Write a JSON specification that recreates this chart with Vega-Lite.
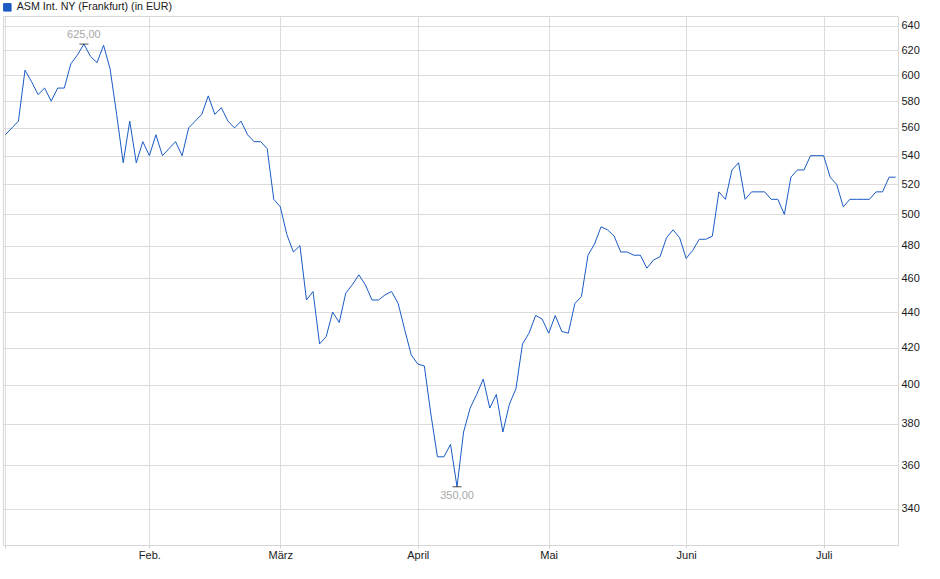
{
  "$schema": "https://vega.github.io/schema/vega-lite/v6.json",
  "width": 895,
  "height": 529,
  "autosize": "none",
  "padding": {"left": 3, "top": 16, "right": 42, "bottom": 34},
  "background": "white",
  "config": {
    "font": "Liberation Sans",
    "view": {"stroke": "#d6d6d6"},
    "axis": {"gridColor": "#dcdcdc", "gridWidth": 1, "domain": false, "labelFont": "Liberation Sans", "labelFontSize": 11, "labelColor": "#1a1a1a"}
  },
  "data": {
    "values": [
      {"d": "2025-01-02", "v": 555}, {"d": "2025-01-03", "v": 560}, {"d": "2025-01-06", "v": 565},
      {"d": "2025-01-07", "v": 604}, {"d": "2025-01-08", "v": 595}, {"d": "2025-01-09", "v": 585},
      {"d": "2025-01-10", "v": 590}, {"d": "2025-01-13", "v": 580}, {"d": "2025-01-14", "v": 590},
      {"d": "2025-01-15", "v": 590}, {"d": "2025-01-16", "v": 609}, {"d": "2025-01-17", "v": 616},
      {"d": "2025-01-20", "v": 625}, {"d": "2025-01-21", "v": 615}, {"d": "2025-01-22", "v": 610},
      {"d": "2025-01-23", "v": 624}, {"d": "2025-01-24", "v": 605}, {"d": "2025-01-27", "v": 570},
      {"d": "2025-01-28", "v": 535}, {"d": "2025-01-29", "v": 565}, {"d": "2025-01-30", "v": 535},
      {"d": "2025-01-31", "v": 550},
      {"d": "2025-02-03", "v": 540}, {"d": "2025-02-04", "v": 555}, {"d": "2025-02-05", "v": 540},
      {"d": "2025-02-06", "v": 545}, {"d": "2025-02-07", "v": 550}, {"d": "2025-02-10", "v": 540},
      {"d": "2025-02-11", "v": 560}, {"d": "2025-02-12", "v": 565}, {"d": "2025-02-13", "v": 570},
      {"d": "2025-02-14", "v": 584}, {"d": "2025-02-17", "v": 570}, {"d": "2025-02-18", "v": 575},
      {"d": "2025-02-19", "v": 565}, {"d": "2025-02-20", "v": 560}, {"d": "2025-02-21", "v": 565},
      {"d": "2025-02-24", "v": 555}, {"d": "2025-02-25", "v": 550}, {"d": "2025-02-26", "v": 550},
      {"d": "2025-02-27", "v": 545}, {"d": "2025-02-28", "v": 510},
      {"d": "2025-03-03", "v": 505}, {"d": "2025-03-04", "v": 487}, {"d": "2025-03-05", "v": 476},
      {"d": "2025-03-06", "v": 480}, {"d": "2025-03-07", "v": 447}, {"d": "2025-03-10", "v": 452},
      {"d": "2025-03-11", "v": 422}, {"d": "2025-03-12", "v": 426}, {"d": "2025-03-13", "v": 440},
      {"d": "2025-03-14", "v": 434}, {"d": "2025-03-17", "v": 451}, {"d": "2025-03-18", "v": 456},
      {"d": "2025-03-19", "v": 462}, {"d": "2025-03-20", "v": 456}, {"d": "2025-03-21", "v": 447},
      {"d": "2025-03-24", "v": 447}, {"d": "2025-03-25", "v": 450}, {"d": "2025-03-26", "v": 452},
      {"d": "2025-03-27", "v": 445}, {"d": "2025-03-28", "v": 430}, {"d": "2025-03-31", "v": 416},
      {"d": "2025-04-01", "v": 411}, {"d": "2025-04-02", "v": 410}, {"d": "2025-04-03", "v": 385},
      {"d": "2025-04-04", "v": 364}, {"d": "2025-04-07", "v": 364}, {"d": "2025-04-08", "v": 370},
      {"d": "2025-04-09", "v": 350}, {"d": "2025-04-10", "v": 376}, {"d": "2025-04-11", "v": 388},
      {"d": "2025-04-14", "v": 395}, {"d": "2025-04-15", "v": 403}, {"d": "2025-04-16", "v": 388},
      {"d": "2025-04-17", "v": 395}, {"d": "2025-04-22", "v": 376}, {"d": "2025-04-23", "v": 390},
      {"d": "2025-04-24", "v": 398}, {"d": "2025-04-25", "v": 422}, {"d": "2025-04-28", "v": 428},
      {"d": "2025-04-29", "v": 438}, {"d": "2025-04-30", "v": 436},
      {"d": "2025-05-02", "v": 428}, {"d": "2025-05-05", "v": 438}, {"d": "2025-05-06", "v": 429},
      {"d": "2025-05-07", "v": 428}, {"d": "2025-05-08", "v": 445}, {"d": "2025-05-09", "v": 449},
      {"d": "2025-05-12", "v": 474}, {"d": "2025-05-13", "v": 481}, {"d": "2025-05-14", "v": 492},
      {"d": "2025-05-15", "v": 490}, {"d": "2025-05-16", "v": 486}, {"d": "2025-05-19", "v": 476},
      {"d": "2025-05-20", "v": 476}, {"d": "2025-05-21", "v": 474}, {"d": "2025-05-22", "v": 474},
      {"d": "2025-05-23", "v": 466}, {"d": "2025-05-26", "v": 471}, {"d": "2025-05-27", "v": 473},
      {"d": "2025-05-28", "v": 485}, {"d": "2025-05-29", "v": 490}, {"d": "2025-05-30", "v": 485},
      {"d": "2025-06-02", "v": 472}, {"d": "2025-06-03", "v": 477}, {"d": "2025-06-04", "v": 484},
      {"d": "2025-06-05", "v": 484}, {"d": "2025-06-06", "v": 486}, {"d": "2025-06-09", "v": 515},
      {"d": "2025-06-10", "v": 510}, {"d": "2025-06-11", "v": 530}, {"d": "2025-06-12", "v": 535},
      {"d": "2025-06-13", "v": 510}, {"d": "2025-06-16", "v": 515}, {"d": "2025-06-17", "v": 515},
      {"d": "2025-06-18", "v": 515}, {"d": "2025-06-19", "v": 510}, {"d": "2025-06-20", "v": 510},
      {"d": "2025-06-23", "v": 500}, {"d": "2025-06-24", "v": 525}, {"d": "2025-06-25", "v": 530},
      {"d": "2025-06-26", "v": 530}, {"d": "2025-06-27", "v": 540}, {"d": "2025-06-30", "v": 540},
      {"d": "2025-07-01", "v": 540}, {"d": "2025-07-02", "v": 525}, {"d": "2025-07-03", "v": 520},
      {"d": "2025-07-04", "v": 505}, {"d": "2025-07-07", "v": 510}, {"d": "2025-07-08", "v": 510},
      {"d": "2025-07-09", "v": 510}, {"d": "2025-07-10", "v": 510}, {"d": "2025-07-11", "v": 515},
      {"d": "2025-07-14", "v": 515}, {"d": "2025-07-15", "v": 525}, {"d": "2025-07-16", "v": 525}
    ]
  },
  "encoding": {
    "x": {
      "field": "d",
      "type": "ordinal",
      "scale": {"type": "point", "padding": 0.36},
      "axis": {
        "title": null,
        "labelAngle": 0,
        "values": ["2025-01-02", "2025-02-03", "2025-03-03", "2025-04-01", "2025-05-02", "2025-06-02", "2025-07-01"],
        "labelExpr": "datum.value == '2025-02-03' ? 'Feb.' : datum.value == '2025-03-03' ? 'März' : datum.value == '2025-04-01' ? 'April' : datum.value == '2025-05-02' ? 'Mai' : datum.value == '2025-06-02' ? 'Juni' : datum.value == '2025-07-01' ? 'Juli' : ''",
        "tickSize": 3,
        "tickColor": "#d0d0d0",
        "labelPadding": 1,
        "grid": true
      }
    },
    "y": {
      "field": "v",
      "type": "quantitative",
      "scale": {"type": "log", "domain": [324.3, 648.4], "nice": false, "zero": false},
      "axis": {
        "title": null,
        "orient": "right",
        "values": [340, 360, 380, 400, 420, 440, 460, 480, 500, 520, 540, 560, 580, 600, 620, 640],
        "format": "d",
        "ticks": false,
        "labelPadding": 3,
        "grid": true
      }
    }
  },
  "layer": [
    {
      "mark": {"type": "line", "strokeWidth": 1, "interpolate": "linear"},
      "encoding": {
        "color": {
          "datum": "ASM Int. NY (Frankfurt) (in EUR)",
          "type": "nominal",
          "scale": {"range": ["#1a5bc4"]},
          "legend": {
            "title": null,
            "orient": "none",
            "legendX": -1,
            "legendY": -14,
            "symbolType": "square",
            "symbolSize": 56,
            "symbolFillColor": "#1a5bc4",
            "symbolStrokeColor": "#0c2a66",
            "symbolStrokeWidth": 1,
            "symbolOffset": 0,
            "labelFontSize": 10.7,
            "labelFont": "Liberation Sans",
            "labelColor": "#1a1a1a",
            "labelLimit": 400,
            "labelOffset": 4,
            "padding": 0
          }
        }
      }
    },
    {
      "transform": [
        {"joinaggregate": [{"op": "max", "field": "v", "as": "vmax"}, {"op": "min", "field": "v", "as": "vmin"}]},
        {"filter": "datum.v == datum.vmax || datum.v == datum.vmin"}
      ],
      "mark": {"type": "tick", "color": "black", "size": 9, "thickness": 1, "orient": "horizontal"},
      "encoding": {}
    },
    {
      "transform": [
        {"joinaggregate": [{"op": "max", "field": "v", "as": "vmax"}]},
        {"filter": "datum.v == datum.vmax"},
        {"calculate": "replace(format(datum.v, '.2f'), '.', ',')", "as": "lbl"}
      ],
      "mark": {"type": "text", "color": "#a8a8a8", "fontSize": 11, "baseline": "middle", "dy": -9},
      "encoding": {"text": {"field": "lbl"}}
    },
    {
      "transform": [
        {"joinaggregate": [{"op": "min", "field": "v", "as": "vmin"}]},
        {"filter": "datum.v == datum.vmin"},
        {"calculate": "replace(format(datum.v, '.2f'), '.', ',')", "as": "lbl"}
      ],
      "mark": {"type": "text", "color": "#a8a8a8", "fontSize": 11, "baseline": "middle", "dy": 9},
      "encoding": {"text": {"field": "lbl"}}
    }
  ]
}
